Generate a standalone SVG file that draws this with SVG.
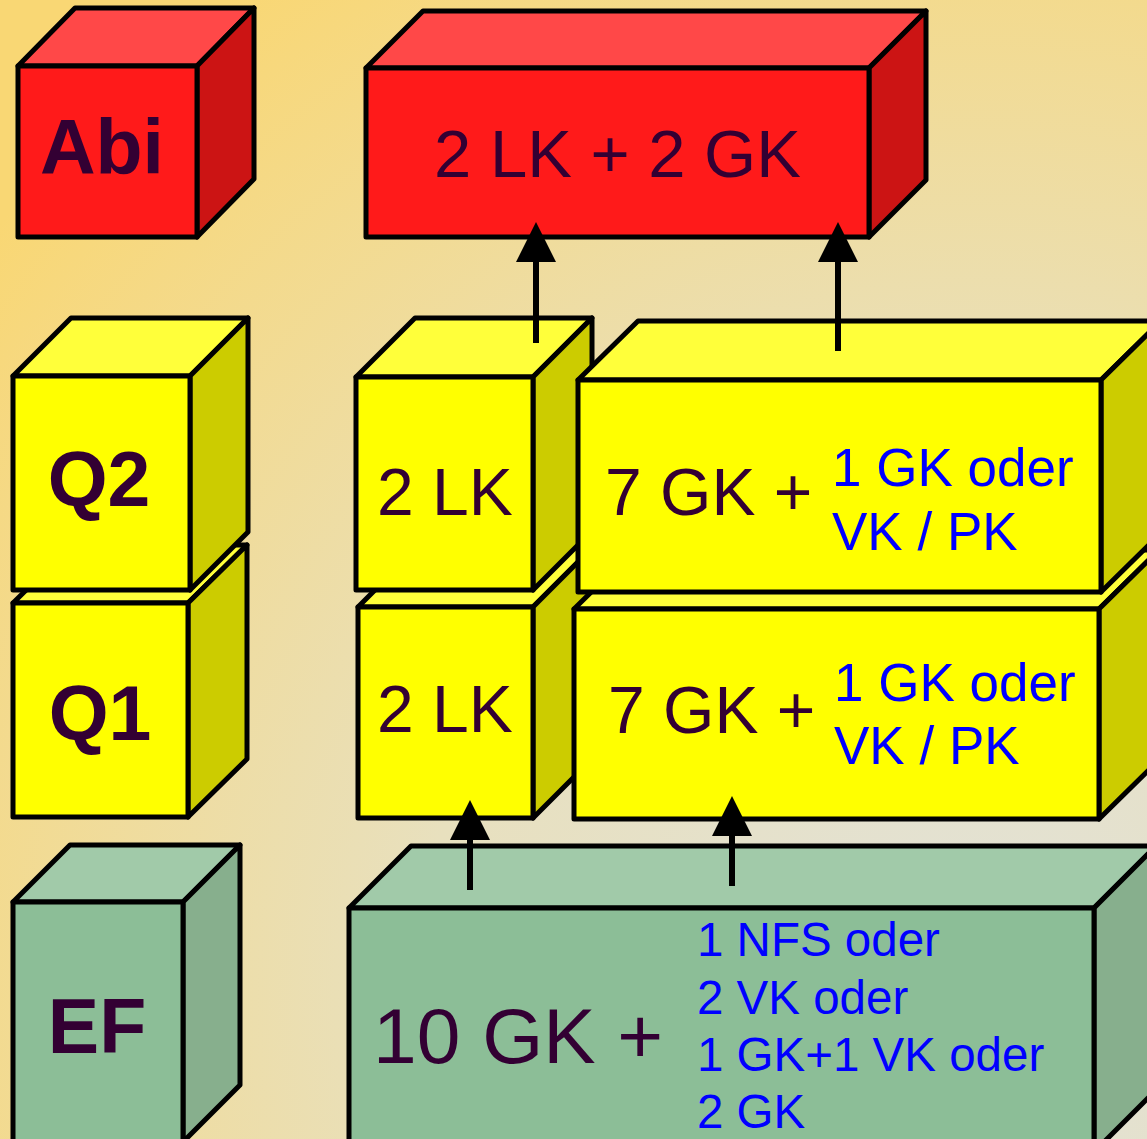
<svg xmlns="http://www.w3.org/2000/svg" width="1147" height="1139" viewBox="0 0 1147 1139">
<defs>
<radialGradient id="bg" gradientUnits="userSpaceOnUse" cx="980" cy="1000" r="1250">
<stop offset="0" stop-color="#E2E2D8"/>
<stop offset="0.45" stop-color="#E8E0BE"/>
<stop offset="1" stop-color="#F9D774"/>
</radialGradient>
<marker id="ah" markerUnits="userSpaceOnUse" markerWidth="40" markerHeight="40" refX="0" refY="20" orient="auto" overflow="visible">
<path d="M0,0 L40,20 L0,40 z" fill="#000"/>
</marker>
<style>
.f, .t, .r { stroke:#000; stroke-width:5; stroke-linejoin:round; }
.red .f { fill:#FF1A1A; } .red .t { fill:#FF4848; } .red .r { fill:#CC1414; }
.yel .f { fill:#FFFF00; } .yel .t { fill:#FFFF3A; } .yel .r { fill:#CCCC00; }
.grn .f { fill:#8CBE97; } .grn .t { fill:#A1CAA9; } .grn .r { fill:#87AF8D; }
text { font-family:"Liberation Sans", Arial, sans-serif; }
.lab { font-weight:bold; font-size:77px; fill:#330033; text-anchor:middle; }
.dk { font-size:66px; fill:#330033; }
.bl { font-size:53px; fill:#0000FF; }
.bl2 { font-size:47.5px; fill:#0000FF; }
.big { font-size:78.5px; fill:#330033; }
.arr { stroke:#000; stroke-width:6; fill:none; marker-end:url(#ah); }
</style>
</defs>
<rect width="1147" height="1139" fill="url(#bg)"/>

<g id="abi-label" class="red">
<polygon class="t" points="18,66 75,8 254,8 197,66"/>
<polygon class="r" points="197,66 254,8 254,179 197,237"/>
<rect class="f" x="18" y="66" width="179" height="171"/>
<text class="lab" x="102" y="174">Abi</text>
</g>

<g id="abi-box" class="red">
<polygon class="t" points="366,68 423,11 926,11 869,68"/>
<polygon class="r" points="869,68 926,11 926,180 869,237"/>
<rect class="f" x="366" y="68" width="503" height="169"/>
<text class="dk" x="434" y="177" style="font-size:67px">2 LK + 2 GK</text>
</g>

<g id="q1-label" class="yel">
<polygon class="t" points="13,603 72,545 247,545 188,603"/>
<polygon class="r" points="188,603 247,545 247,759 188,817"/>
<rect class="f" x="13" y="603" width="175" height="214"/>
<text class="lab" x="100" y="740">Q1</text>
</g>

<g id="q2-label" class="yel">
<polygon class="t" points="13,376 71,318 248,318 190,376"/>
<polygon class="r" points="190,376 248,318 248,532 190,590"/>
<rect class="f" x="13" y="376" width="177" height="214"/>
<text class="lab" x="99" y="506">Q2</text>
</g>

<g id="q1-lk" class="yel">
<polygon class="t" points="358,607 417,548 592,548 533,607"/>
<polygon class="r" points="533,607 592,548 592,759 533,818"/>
<rect class="f" x="358" y="607" width="175" height="211"/>
<text class="dk" x="377" y="732">2 LK</text>
</g>

<g id="q1-gk" class="yel">
<polygon class="t" points="574,609 634,550 1159,550 1099,609"/>
<polygon class="r" points="1099,609 1159,550 1159,760 1099,819"/>
<rect class="f" x="574" y="609" width="525" height="210"/>
<text class="dk" x="608" y="733">7 GK +</text>
<text class="bl" x="834" y="701">1 GK oder</text>
<text class="bl" x="834" y="764">VK / PK</text>
</g>

<g id="q2-lk" class="yel">
<polygon class="t" points="356,377 415,318 592,318 533,377"/>
<polygon class="r" points="533,377 592,318 592,531 533,590"/>
<rect class="f" x="356" y="377" width="177" height="213"/>
<text class="dk" x="377" y="515">2 LK</text>
</g>

<g id="q2-gk" class="yel">
<polygon class="t" points="578,380 638,321 1161,321 1101,380"/>
<polygon class="r" points="1101,380 1161,321 1161,533 1101,592"/>
<rect class="f" x="578" y="380" width="523" height="212"/>
<text class="dk" x="605" y="515">7 GK +</text>
<text class="bl" x="832" y="486">1 GK oder</text>
<text class="bl" x="832" y="550">VK / PK</text>
</g>

<g id="ef-label" class="grn">
<polygon class="t" points="13,902 70,845 240,845 183,902"/>
<polygon class="r" points="183,902 240,845 240,1085 183,1142"/>
<rect class="f" x="13" y="902" width="170" height="240"/>
<text class="lab" x="97" y="1053">EF</text>
</g>

<g id="ef-box" class="grn">
<polygon class="t" points="349,908 411,846 1156,846 1094,908"/>
<polygon class="r" points="1094,908 1156,846 1156,1090 1094,1152"/>
<rect class="f" x="349" y="908" width="745" height="244"/>
<text class="big" x="373" y="1063">10 GK +</text>
<text class="bl2" x="697" y="956">1 NFS oder</text>
<text class="bl2" x="697" y="1014">2 VK oder</text>
<text class="bl2" x="697" y="1071">1 GK+1 VK oder</text>
<text class="bl2" x="697" y="1128">2 GK</text>
</g>

<g id="connectors">
<line class="arr" x1="536" y1="343" x2="536" y2="262"/>
<line class="arr" x1="838" y1="351" x2="838" y2="262"/>
<line class="arr" x1="470" y1="890" x2="470" y2="840"/>
<line class="arr" x1="732" y1="886" x2="732" y2="836"/>
</g>
</svg>
